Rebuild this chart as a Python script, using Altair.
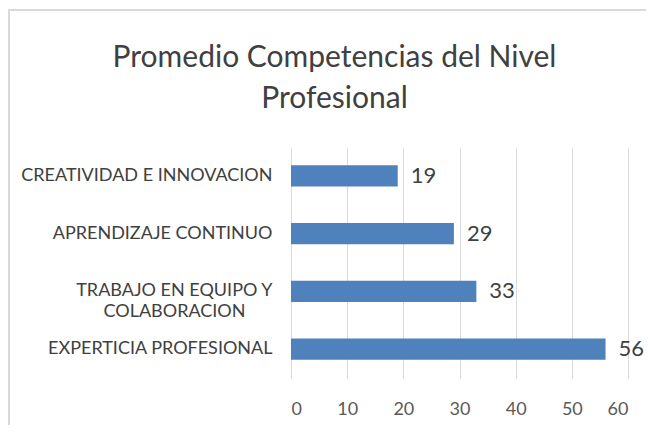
import altair as alt
import pandas as pd

categories = ["CREATIVIDAD E INNOVACION", "APRENDIZAJE CONTINUO",
              "TRABAJO EN EQUIPO Y COLABORACION", "EXPERTICIA PROFESIONAL"]
values = [19, 29, 33, 56]
x_ticks = [0, 10, 20, 30, 40, 50, 60]
title_lines = ["Promedio Competencias del Nivel", "Profesional"]

df = pd.DataFrame({"cat": categories, "val": values})

FONT = "Lato"
sp = "\u2002" * 3 + "\u200b"
label_expr = ("datum.label == 'TRABAJO EN EQUIPO Y COLABORACION' ? "
              "['TRABAJO EN EQUIPO Y', 'COLABORACION" + sp + "'] : datum.label")

base = alt.Chart(df)

y_enc = alt.Y("cat:N", sort=None,
              scale=alt.Scale(paddingInner=0.636, paddingOuter=0.318),
              axis=alt.Axis(title=None, domain=False, ticks=False, grid=False,
                            labelPadding=19, labelFontSize=18, labelColor="#404040",
                            labelFont=FONT, labelLineHeight=21, labelLimit=400,
                            labelExpr=label_expr))

bars = base.mark_bar(color="#4F81BD").encode(
    x=alt.X("val:Q", scale=alt.Scale(domain=[0, 60], nice=False),
            axis=alt.Axis(title=None, values=x_ticks, domain=False, ticks=False,
                          grid=True, gridColor="#D9D9D9", gridWidth=1,
                          labelPadding=22, labelFontSize=18, labelColor="#595959",
                          labelFont=FONT)),
    y=y_enc,
)

labels = base.mark_text(align="left", baseline="middle", dx=13, fontSize=22,
                        font=FONT, color="#404040").encode(
    x="val:Q", y=alt.Y("cat:N", sort=None), text="val:Q")

frame = alt.Chart(pd.DataFrame({"a": [0]})).mark_rect(
    fill=None, stroke="#D9D9D9", strokeWidth=2).encode(
    x=alt.value(-282), x2=alt.value(420), y=alt.value(-137), y2=alt.value(400))

chart = alt.layer(frame, bars, labels).properties(
    width=337, height=231,
    padding={"left": 283, "top": 139, "right": 18, "bottom": 47},
    autosize=alt.AutoSizeParams(type="none"),
    title=alt.TitleParams(text=title_lines, anchor="middle", fontSize=30,
                          font=FONT, fontWeight="normal", color="#404040",
                          lineHeight=41, dx=-125, offset=-105),
).configure_view(stroke=None)

chart.save("out.html", embed_options={"renderer": "svg", "actions": False})
